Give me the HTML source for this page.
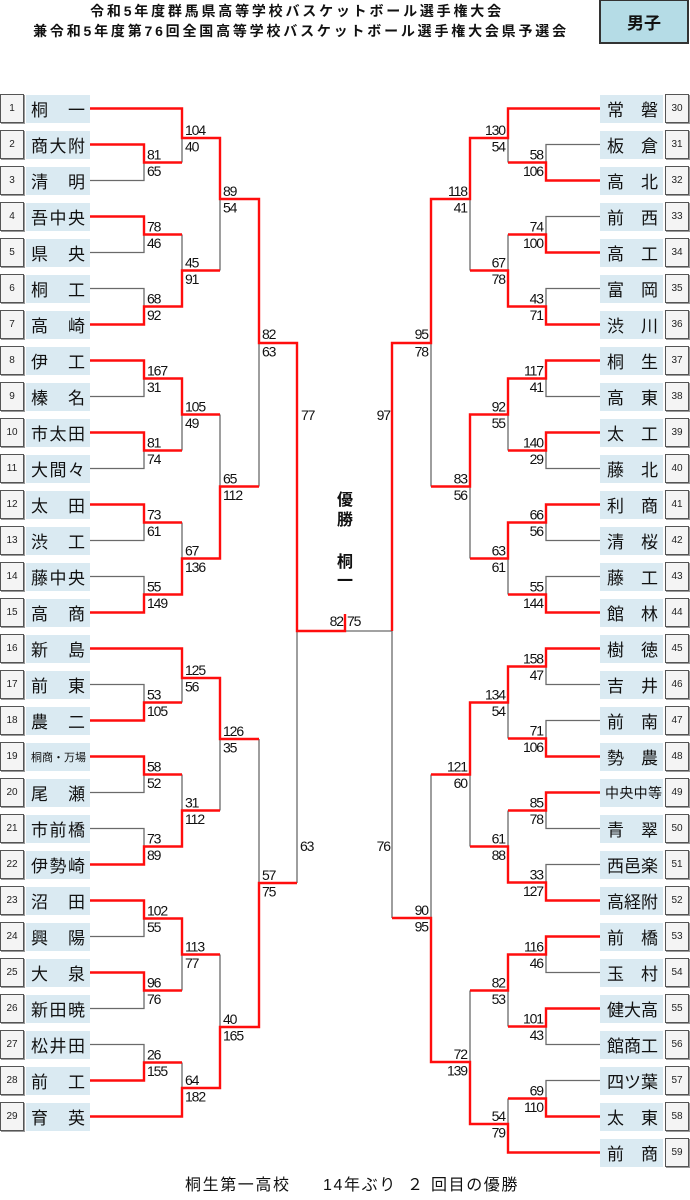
<!DOCTYPE html>
<html><head><meta charset="utf-8">
<style>
*{margin:0;padding:0;box-sizing:border-box}
body{width:690px;height:1200px;background:#fff;position:relative;overflow:hidden;font-family:"Liberation Sans","Noto Sans CJK JP",sans-serif;color:#111}
.t{position:absolute;white-space:nowrap;font-weight:bold;font-size:14px;letter-spacing:2.8px;line-height:16px;text-align:center}
.n{position:absolute;left:0;width:24px;height:29px;background:#f4f4f4;border:1px solid #555;box-shadow:1px 1px 0 #999;font-size:10px;display:flex;align-items:center;justify-content:center;color:#222}
.rn{left:665px}
.b{position:absolute;left:26px;width:64px;height:28px;background:#daeaf2;display:flex;align-items:center;justify-content:space-between;padding:0 5px;font-size:17px;line-height:20px;color:#111;font-family:"Noto Sans CJK JP",sans-serif}
.rb{left:600px;width:63px;padding:0 5px 0 7px}
.s11{font-size:11px}
.s14{font-size:14px;padding:0 1px 0 5px}
.c{position:absolute;left:337px;width:16px;font-size:16px;line-height:16px;font-weight:bold;text-align:center;font-family:"Noto Sans CJK JP",sans-serif}
.bt{position:absolute;top:1176px;font-size:16px;line-height:20px;letter-spacing:1.6px;white-space:nowrap;font-family:"Liberation Sans","Noto Sans CJK JP",sans-serif}
svg{position:absolute;left:0;top:0}
</style></head><body>

<div class="t" style="left:0;width:594px;top:3px">令和5年度群馬県高等学校バスケットボール選手権大会</div>
<div class="t" style="left:0;width:602px;top:23px">兼令和5年度第76回全国高等学校バスケットボール選手権大会県予選会</div>
<div style="position:absolute;left:599px;top:-1px;width:90px;height:45px;background:#b5dce6;border:2px solid #333;display:flex;align-items:center;justify-content:center;font-size:17px;font-weight:bold;font-family:'Noto Sans CJK JP',sans-serif">男子</div>

<div class="n" style="top:94px">1</div>
<div class="n" style="top:130px">2</div>
<div class="n" style="top:166px">3</div>
<div class="n" style="top:202px">4</div>
<div class="n" style="top:238px">5</div>
<div class="n" style="top:274px">6</div>
<div class="n" style="top:310px">7</div>
<div class="n" style="top:346px">8</div>
<div class="n" style="top:382px">9</div>
<div class="n" style="top:418px">10</div>
<div class="n" style="top:454px">11</div>
<div class="n" style="top:490px">12</div>
<div class="n" style="top:526px">13</div>
<div class="n" style="top:562px">14</div>
<div class="n" style="top:598px">15</div>
<div class="n" style="top:634px">16</div>
<div class="n" style="top:670px">17</div>
<div class="n" style="top:706px">18</div>
<div class="n" style="top:742px">19</div>
<div class="n" style="top:778px">20</div>
<div class="n" style="top:814px">21</div>
<div class="n" style="top:850px">22</div>
<div class="n" style="top:886px">23</div>
<div class="n" style="top:922px">24</div>
<div class="n" style="top:958px">25</div>
<div class="n" style="top:994px">26</div>
<div class="n" style="top:1030px">27</div>
<div class="n" style="top:1066px">28</div>
<div class="n" style="top:1102px">29</div>

<div class="b" style="top:95px"><span>桐</span><span>一</span></div>
<div class="b" style="top:131px"><span>商</span><span>大</span><span>附</span></div>
<div class="b" style="top:167px"><span>清</span><span>明</span></div>
<div class="b" style="top:203px"><span>吾</span><span>中</span><span>央</span></div>
<div class="b" style="top:239px"><span>県</span><span>央</span></div>
<div class="b" style="top:275px"><span>桐</span><span>工</span></div>
<div class="b" style="top:311px"><span>高</span><span>崎</span></div>
<div class="b" style="top:347px"><span>伊</span><span>工</span></div>
<div class="b" style="top:383px"><span>榛</span><span>名</span></div>
<div class="b" style="top:419px"><span>市</span><span>太</span><span>田</span></div>
<div class="b" style="top:455px"><span>大</span><span>間</span><span>々</span></div>
<div class="b" style="top:491px"><span>太</span><span>田</span></div>
<div class="b" style="top:527px"><span>渋</span><span>工</span></div>
<div class="b" style="top:563px"><span>藤</span><span>中</span><span>央</span></div>
<div class="b" style="top:599px"><span>高</span><span>商</span></div>
<div class="b" style="top:635px"><span>新</span><span>島</span></div>
<div class="b" style="top:671px"><span>前</span><span>東</span></div>
<div class="b" style="top:707px"><span>農</span><span>二</span></div>
<div class="b s11" style="top:743px"><span>桐</span><span>商</span><span>・</span><span>万</span><span>場</span></div>
<div class="b" style="top:779px"><span>尾</span><span>瀬</span></div>
<div class="b" style="top:815px"><span>市</span><span>前</span><span>橋</span></div>
<div class="b" style="top:851px"><span>伊</span><span>勢</span><span>崎</span></div>
<div class="b" style="top:887px"><span>沼</span><span>田</span></div>
<div class="b" style="top:923px"><span>興</span><span>陽</span></div>
<div class="b" style="top:959px"><span>大</span><span>泉</span></div>
<div class="b" style="top:995px"><span>新</span><span>田</span><span>暁</span></div>
<div class="b" style="top:1031px"><span>松</span><span>井</span><span>田</span></div>
<div class="b" style="top:1067px"><span>前</span><span>工</span></div>
<div class="b" style="top:1103px"><span>育</span><span>英</span></div>

<div class="n rn" style="top:94px">30</div>
<div class="n rn" style="top:130px">31</div>
<div class="n rn" style="top:166px">32</div>
<div class="n rn" style="top:202px">33</div>
<div class="n rn" style="top:238px">34</div>
<div class="n rn" style="top:274px">35</div>
<div class="n rn" style="top:310px">36</div>
<div class="n rn" style="top:346px">37</div>
<div class="n rn" style="top:382px">38</div>
<div class="n rn" style="top:418px">39</div>
<div class="n rn" style="top:454px">40</div>
<div class="n rn" style="top:490px">41</div>
<div class="n rn" style="top:526px">42</div>
<div class="n rn" style="top:562px">43</div>
<div class="n rn" style="top:598px">44</div>
<div class="n rn" style="top:634px">45</div>
<div class="n rn" style="top:670px">46</div>
<div class="n rn" style="top:706px">47</div>
<div class="n rn" style="top:742px">48</div>
<div class="n rn" style="top:778px">49</div>
<div class="n rn" style="top:814px">50</div>
<div class="n rn" style="top:850px">51</div>
<div class="n rn" style="top:886px">52</div>
<div class="n rn" style="top:922px">53</div>
<div class="n rn" style="top:958px">54</div>
<div class="n rn" style="top:994px">55</div>
<div class="n rn" style="top:1030px">56</div>
<div class="n rn" style="top:1066px">57</div>
<div class="n rn" style="top:1102px">58</div>
<div class="n rn" style="top:1138px">59</div>

<div class="b rb" style="top:95px"><span>常</span><span>磐</span></div>
<div class="b rb" style="top:131px"><span>板</span><span>倉</span></div>
<div class="b rb" style="top:167px"><span>高</span><span>北</span></div>
<div class="b rb" style="top:203px"><span>前</span><span>西</span></div>
<div class="b rb" style="top:239px"><span>高</span><span>工</span></div>
<div class="b rb" style="top:275px"><span>富</span><span>岡</span></div>
<div class="b rb" style="top:311px"><span>渋</span><span>川</span></div>
<div class="b rb" style="top:347px"><span>桐</span><span>生</span></div>
<div class="b rb" style="top:383px"><span>高</span><span>東</span></div>
<div class="b rb" style="top:419px"><span>太</span><span>工</span></div>
<div class="b rb" style="top:455px"><span>藤</span><span>北</span></div>
<div class="b rb" style="top:491px"><span>利</span><span>商</span></div>
<div class="b rb" style="top:527px"><span>清</span><span>桜</span></div>
<div class="b rb" style="top:563px"><span>藤</span><span>工</span></div>
<div class="b rb" style="top:599px"><span>館</span><span>林</span></div>
<div class="b rb" style="top:635px"><span>樹</span><span>徳</span></div>
<div class="b rb" style="top:671px"><span>吉</span><span>井</span></div>
<div class="b rb" style="top:707px"><span>前</span><span>南</span></div>
<div class="b rb" style="top:743px"><span>勢</span><span>農</span></div>
<div class="b rb s14" style="top:779px"><span>中</span><span>央</span><span>中</span><span>等</span></div>
<div class="b rb" style="top:815px"><span>青</span><span>翠</span></div>
<div class="b rb" style="top:851px"><span>西</span><span>邑</span><span>楽</span></div>
<div class="b rb" style="top:887px"><span>高</span><span>経</span><span>附</span></div>
<div class="b rb" style="top:923px"><span>前</span><span>橋</span></div>
<div class="b rb" style="top:959px"><span>玉</span><span>村</span></div>
<div class="b rb" style="top:995px"><span>健</span><span>大</span><span>高</span></div>
<div class="b rb" style="top:1031px"><span>館</span><span>商</span><span>工</span></div>
<div class="b rb" style="top:1067px"><span>四</span><span>ツ</span><span>葉</span></div>
<div class="b rb" style="top:1103px"><span>太</span><span>東</span></div>
<div class="b rb" style="top:1139px"><span>前</span><span>商</span></div>

<div class="c" style="top:490px">優</div>
<div class="c" style="top:510px">勝</div>
<div class="c" style="top:552px">桐</div>
<div class="c" style="top:571px">一</div>

<div class="bt" style="left:185px">桐生第一高校</div>
<div class="bt" style="left:323px">14年ぶり</div>
<div class="bt" style="left:407px">２</div>
<div class="bt" style="left:431px">回目の優勝</div>

<svg width="690" height="1200" viewBox="0 0 690 1200">
<g fill="none" stroke="#6a6a6a" stroke-width="1.3">
<path d="M90 180.5 H144 V162.5"/>
<path d="M182 162.5 V138"/>
<path d="M90 252.5 H144 V234.5"/>
<path d="M90 288.5 H144 V306.5"/>
<path d="M182 234.5 V270.5"/>
<path d="M220 270.5 V199"/>
<path d="M90 396.5 H144 V378.5"/>
<path d="M90 468.5 H144 V450.5"/>
<path d="M182 450.5 V414.5"/>
<path d="M220 414.5 V486.5"/>
<path d="M90 540.5 H144 V522.5"/>
<path d="M90 576.5 H144 V594.5"/>
<path d="M182 522.5 V558.5"/>
<path d="M259 486.5 V343"/>
<path d="M90 684.5 H144 V702.5"/>
<path d="M182 702.5 V678"/>
<path d="M90 792.5 H144 V774.5"/>
<path d="M90 828.5 H144 V846.5"/>
<path d="M182 774.5 V810.5"/>
<path d="M220 810.5 V739"/>
<path d="M90 936.5 H144 V918.5"/>
<path d="M90 1008.5 H144 V990.5"/>
<path d="M182 990.5 V954.5"/>
<path d="M220 954.5 V1027"/>
<path d="M90 1044.5 H144 V1062.5"/>
<path d="M182 1062.5 V1088"/>
<path d="M259 739 V883"/>
<path d="M297 883 V631"/>
<path d="M600 144.5 H546 V162.5"/>
<path d="M508 162.5 V138"/>
<path d="M600 216.5 H546 V234.5"/>
<path d="M600 288.5 H546 V306.5"/>
<path d="M508 234.5 V270.5"/>
<path d="M470 270.5 V199"/>
<path d="M600 396.5 H546 V378.5"/>
<path d="M600 468.5 H546 V450.5"/>
<path d="M508 450.5 V414.5"/>
<path d="M600 540.5 H546 V522.5"/>
<path d="M600 576.5 H546 V594.5"/>
<path d="M508 594.5 V558.5"/>
<path d="M470 558.5 V486.5"/>
<path d="M431 486.5 V343"/>
<path d="M600 684.5 H546 V666.5"/>
<path d="M600 720.5 H546 V738.5"/>
<path d="M508 738.5 V702.5"/>
<path d="M600 828.5 H546 V810.5"/>
<path d="M600 864.5 H546 V882.5"/>
<path d="M508 810.5 V846.5"/>
<path d="M470 846.5 V774.5"/>
<path d="M600 972.5 H546 V954.5"/>
<path d="M600 1044.5 H546 V1026.5"/>
<path d="M508 1026.5 V990.5"/>
<path d="M600 1080.5 H546 V1098.5"/>
<path d="M508 1098.5 V1124"/>
<path d="M470 990.5 V1062"/>
<path d="M431 774.5 V918"/>
<path d="M392 918 V631 H345"/>
</g>
<g fill="none" stroke="#ff0d0d" stroke-width="2.4" stroke-linejoin="miter">
<path d="M90 108.5 H182 V138 H220 V199 H259 V343 H297 V631 H345 V614"/>
<path d="M90 144.5 H144 V162.5 H182"/>
<path d="M90 216.5 H144 V234.5 H182"/>
<path d="M90 324.5 H144 V306.5 H182 V270.5 H220"/>
<path d="M90 360.5 H144 V378.5 H182 V414.5 H220"/>
<path d="M90 432.5 H144 V450.5 H182"/>
<path d="M90 504.5 H144 V522.5 H182"/>
<path d="M90 612.5 H144 V594.5 H182 V558.5 H220 V486.5 H259"/>
<path d="M90 648.5 H182 V678 H220 V739 H259"/>
<path d="M90 720.5 H144 V702.5 H182"/>
<path d="M90 756.5 H144 V774.5 H182"/>
<path d="M90 864.5 H144 V846.5 H182 V810.5 H220"/>
<path d="M90 900.5 H144 V918.5 H182 V954.5 H220"/>
<path d="M90 972.5 H144 V990.5 H182"/>
<path d="M90 1080.5 H144 V1062.5 H182"/>
<path d="M90 1116.5 H182 V1088 H220 V1027 H259 V883 H297"/>
<path d="M600 108.5 H508 V138 H470 V199 H431 V343 H392 V631"/>
<path d="M600 180.5 H546 V162.5 H508"/>
<path d="M600 252.5 H546 V234.5 H508"/>
<path d="M600 324.5 H546 V306.5 H508 V270.5 H470"/>
<path d="M600 360.5 H546 V378.5 H508 V414.5 H470 V486.5 H431"/>
<path d="M600 432.5 H546 V450.5 H508"/>
<path d="M600 504.5 H546 V522.5 H508 V558.5 H470"/>
<path d="M600 612.5 H546 V594.5 H508"/>
<path d="M600 648.5 H546 V666.5 H508 V702.5 H470 V774.5 H431"/>
<path d="M600 756.5 H546 V738.5 H508"/>
<path d="M600 792.5 H546 V810.5 H508"/>
<path d="M600 900.5 H546 V882.5 H508 V846.5 H470"/>
<path d="M600 936.5 H546 V954.5 H508 V990.5 H470"/>
<path d="M600 1008.5 H546 V1026.5 H508"/>
<path d="M600 1116.5 H546 V1098.5 H508"/>
<path d="M600 1152.5 H508 V1124 H470 V1062 H431 V918 H392"/>
</g>
<g font-family="Liberation Sans, sans-serif" font-size="14" letter-spacing="-1.1" fill="#111">
<text x="147" y="159.5">81</text><text x="147" y="176">65</text>
<text x="147" y="231.5">78</text><text x="147" y="248">46</text>
<text x="147" y="303.5">68</text><text x="147" y="320">92</text>
<text x="147" y="375.5">167</text><text x="147" y="392">31</text>
<text x="147" y="447.5">81</text><text x="147" y="464">74</text>
<text x="147" y="519.5">73</text><text x="147" y="536">61</text>
<text x="147" y="591.5">55</text><text x="147" y="608">149</text>
<text x="147" y="699.5">53</text><text x="147" y="716">105</text>
<text x="147" y="771.5">58</text><text x="147" y="788">52</text>
<text x="147" y="843.5">73</text><text x="147" y="860">89</text>
<text x="147" y="915.5">102</text><text x="147" y="932">55</text>
<text x="147" y="987.5">96</text><text x="147" y="1004">76</text>
<text x="147" y="1059.5">26</text><text x="147" y="1076">155</text>
<text x="185" y="135">104</text><text x="185" y="151.5">40</text>
<text x="185" y="267.5">45</text><text x="185" y="284">91</text>
<text x="185" y="411.5">105</text><text x="185" y="428">49</text>
<text x="185" y="555.5">67</text><text x="185" y="572">136</text>
<text x="185" y="675">125</text><text x="185" y="691.5">56</text>
<text x="185" y="807.5">31</text><text x="185" y="824">112</text>
<text x="185" y="951.5">113</text><text x="185" y="968">77</text>
<text x="185" y="1085">64</text><text x="185" y="1101.5">182</text>
<text x="223" y="196">89</text><text x="223" y="212.5">54</text>
<text x="223" y="483.5">65</text><text x="223" y="500">112</text>
<text x="223" y="736">126</text><text x="223" y="752.5">35</text>
<text x="223" y="1024">40</text><text x="223" y="1040.5">165</text>
<text x="262" y="339">82</text><text x="262" y="356.5">63</text>
<text x="262" y="880">57</text><text x="262" y="896.5">75</text>
<text x="301" y="420">77</text>
<text x="300" y="851">63</text>
<text x="343" y="626" text-anchor="end">82</text>
<text x="347" y="626">75</text>
</g>
<g font-family="Liberation Sans, sans-serif" font-size="14" letter-spacing="-1.1" fill="#111" text-anchor="end">
<text x="543" y="159.5">58</text><text x="543" y="176">106</text>
<text x="543" y="231.5">74</text><text x="543" y="248">100</text>
<text x="543" y="303.5">43</text><text x="543" y="320">71</text>
<text x="543" y="375.5">117</text><text x="543" y="392">41</text>
<text x="543" y="447.5">140</text><text x="543" y="464">29</text>
<text x="543" y="519.5">66</text><text x="543" y="536">56</text>
<text x="543" y="591.5">55</text><text x="543" y="608">144</text>
<text x="543" y="663.5">158</text><text x="543" y="680">47</text>
<text x="543" y="735.5">71</text><text x="543" y="752">106</text>
<text x="543" y="807.5">85</text><text x="543" y="824">78</text>
<text x="543" y="879.5">33</text><text x="543" y="896">127</text>
<text x="543" y="951.5">116</text><text x="543" y="968">46</text>
<text x="543" y="1023.5">101</text><text x="543" y="1040">43</text>
<text x="543" y="1095.5">69</text><text x="543" y="1112">110</text>
<text x="505" y="135">130</text><text x="505" y="151.5">54</text>
<text x="505" y="267.5">67</text><text x="505" y="284">78</text>
<text x="505" y="411.5">92</text><text x="505" y="428">55</text>
<text x="505" y="555.5">63</text><text x="505" y="572">61</text>
<text x="505" y="699.5">134</text><text x="505" y="716">54</text>
<text x="505" y="843.5">61</text><text x="505" y="860">88</text>
<text x="505" y="987.5">82</text><text x="505" y="1004">53</text>
<text x="505" y="1121">54</text><text x="505" y="1137.5">79</text>
<text x="467" y="196">118</text><text x="467" y="212.5">41</text>
<text x="467" y="483.5">83</text><text x="467" y="500">56</text>
<text x="467" y="771.5">121</text><text x="467" y="788">60</text>
<text x="467" y="1059">72</text><text x="467" y="1075.5">139</text>
<text x="428" y="339">95</text><text x="428" y="356.5">78</text>
<text x="428" y="915">90</text><text x="428" y="931.5">95</text>
<text x="390" y="420">97</text>
<text x="390" y="851">76</text>
</g>
</svg>
</body></html>
